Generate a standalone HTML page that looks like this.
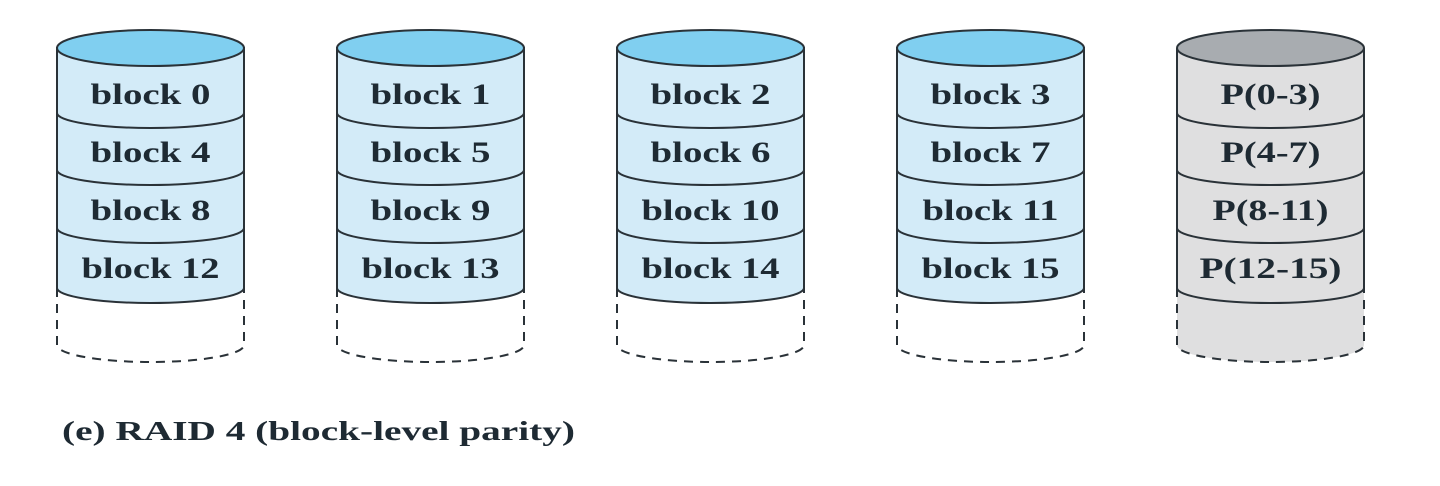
<!DOCTYPE html>
<html><head><style>
html,body{margin:0;padding:0;background:#fff;}
svg{display:block;}
text{font-family:"Liberation Serif",serif;font-weight:bold;fill:#1e2a33;}
</style></head><body>
<svg width="1440" height="486" viewBox="0 0 1440 486" xmlns="http://www.w3.org/2000/svg">
<g stroke="#2a3238" stroke-width="2" font-size="30">
  <g transform="translate(57,0)">
    <path d="M0,48 V288 A93.5,15 0 0 0 187,288 V48 Z" fill="#d3ebf8"/>
    <path d="M0,288 V345 A93.5,17 0 0 0 187,345 V288" fill="none" stroke-dasharray="9,7"/>
    <ellipse cx="93.5" cy="48" rx="93.5" ry="18" fill="#80cff0"/>
    <path d="M0,113 A93.5,15 0 0 0 187,113 M0,170 A93.5,15 0 0 0 187,170 M0,228 A93.5,15 0 0 0 187,228" fill="none"/>
    <g stroke="none" text-anchor="middle"><text x="93.5" y="104" textLength="120" lengthAdjust="spacingAndGlyphs">block 0</text><text x="93.5" y="162" textLength="120" lengthAdjust="spacingAndGlyphs">block 4</text><text x="93.5" y="220" textLength="120" lengthAdjust="spacingAndGlyphs">block 8</text><text x="93.5" y="278" textLength="138" lengthAdjust="spacingAndGlyphs">block 12</text></g>
  </g>
  <g transform="translate(337,0)">
    <path d="M0,48 V288 A93.5,15 0 0 0 187,288 V48 Z" fill="#d3ebf8"/>
    <path d="M0,288 V345 A93.5,17 0 0 0 187,345 V288" fill="none" stroke-dasharray="9,7"/>
    <ellipse cx="93.5" cy="48" rx="93.5" ry="18" fill="#80cff0"/>
    <path d="M0,113 A93.5,15 0 0 0 187,113 M0,170 A93.5,15 0 0 0 187,170 M0,228 A93.5,15 0 0 0 187,228" fill="none"/>
    <g stroke="none" text-anchor="middle"><text x="93.5" y="104" textLength="120" lengthAdjust="spacingAndGlyphs">block 1</text><text x="93.5" y="162" textLength="120" lengthAdjust="spacingAndGlyphs">block 5</text><text x="93.5" y="220" textLength="120" lengthAdjust="spacingAndGlyphs">block 9</text><text x="93.5" y="278" textLength="138" lengthAdjust="spacingAndGlyphs">block 13</text></g>
  </g>
  <g transform="translate(617,0)">
    <path d="M0,48 V288 A93.5,15 0 0 0 187,288 V48 Z" fill="#d3ebf8"/>
    <path d="M0,288 V345 A93.5,17 0 0 0 187,345 V288" fill="none" stroke-dasharray="9,7"/>
    <ellipse cx="93.5" cy="48" rx="93.5" ry="18" fill="#80cff0"/>
    <path d="M0,113 A93.5,15 0 0 0 187,113 M0,170 A93.5,15 0 0 0 187,170 M0,228 A93.5,15 0 0 0 187,228" fill="none"/>
    <g stroke="none" text-anchor="middle"><text x="93.5" y="104" textLength="120" lengthAdjust="spacingAndGlyphs">block 2</text><text x="93.5" y="162" textLength="120" lengthAdjust="spacingAndGlyphs">block 6</text><text x="93.5" y="220" textLength="138" lengthAdjust="spacingAndGlyphs">block 10</text><text x="93.5" y="278" textLength="138" lengthAdjust="spacingAndGlyphs">block 14</text></g>
  </g>
  <g transform="translate(897,0)">
    <path d="M0,48 V288 A93.5,15 0 0 0 187,288 V48 Z" fill="#d3ebf8"/>
    <path d="M0,288 V345 A93.5,17 0 0 0 187,345 V288" fill="none" stroke-dasharray="9,7"/>
    <ellipse cx="93.5" cy="48" rx="93.5" ry="18" fill="#80cff0"/>
    <path d="M0,113 A93.5,15 0 0 0 187,113 M0,170 A93.5,15 0 0 0 187,170 M0,228 A93.5,15 0 0 0 187,228" fill="none"/>
    <g stroke="none" text-anchor="middle"><text x="93.5" y="104" textLength="120" lengthAdjust="spacingAndGlyphs">block 3</text><text x="93.5" y="162" textLength="120" lengthAdjust="spacingAndGlyphs">block 7</text><text x="93.5" y="220" textLength="136" lengthAdjust="spacingAndGlyphs">block 11</text><text x="93.5" y="278" textLength="138" lengthAdjust="spacingAndGlyphs">block 15</text></g>
  </g>
  <g transform="translate(1177,0)">
    <path d="M0,48 V345 A93.5,17 0 0 0 187,345 V48 Z" fill="#dfdfe0" stroke="none"/>
    <path d="M0,48 V288 A93.5,15 0 0 0 187,288 V48" fill="none"/>
    <path d="M0,288 V345 A93.5,17 0 0 0 187,345 V288" fill="none" stroke-dasharray="9,7"/>
    <ellipse cx="93.5" cy="48" rx="93.5" ry="18" fill="#a8acb0"/>
    <path d="M0,113 A93.5,15 0 0 0 187,113 M0,170 A93.5,15 0 0 0 187,170 M0,228 A93.5,15 0 0 0 187,228" fill="none"/>
    <g stroke="none" text-anchor="middle"><text x="93.5" y="104" textLength="100" lengthAdjust="spacingAndGlyphs">P(0-3)</text><text x="93.5" y="162" textLength="100" lengthAdjust="spacingAndGlyphs">P(4-7)</text><text x="93.5" y="220" textLength="116" lengthAdjust="spacingAndGlyphs">P(8-11)</text><text x="93.5" y="278" textLength="142" lengthAdjust="spacingAndGlyphs">P(12-15)</text></g>
  </g>
</g>
<text x="62" y="440" font-size="27" textLength="513" lengthAdjust="spacingAndGlyphs">(e) RAID 4 (block-level parity)</text>
</svg>
</body></html>
